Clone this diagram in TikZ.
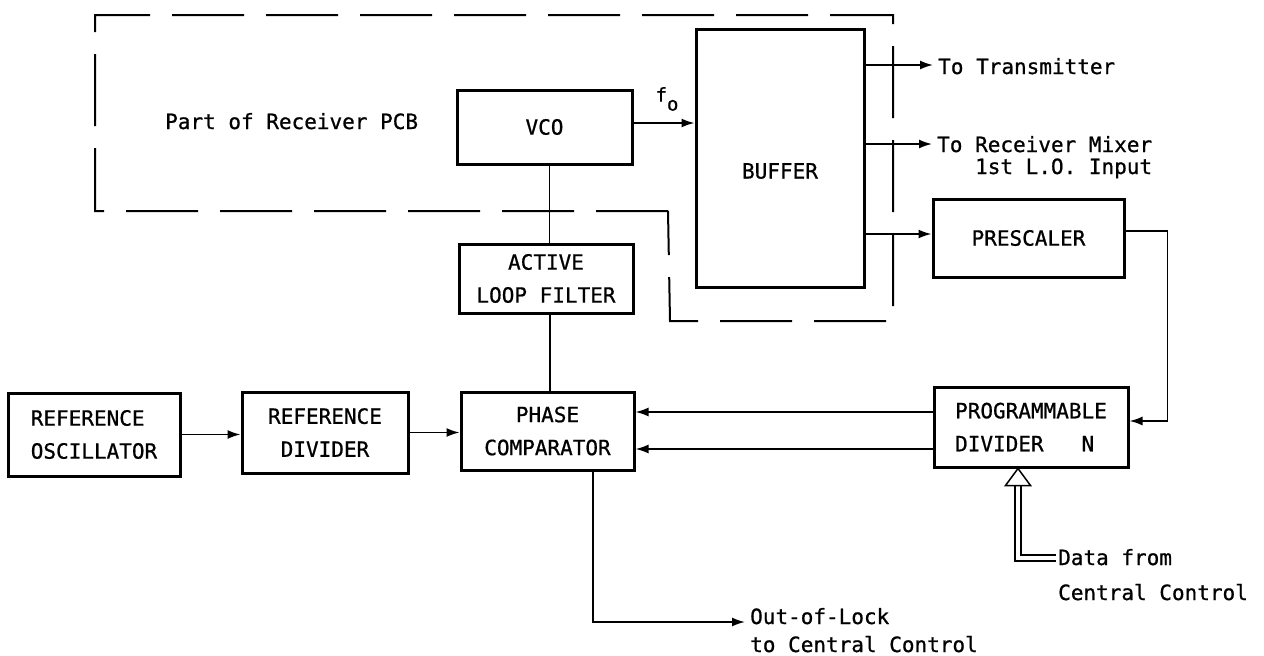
\documentclass[tikz,border=0pt]{standalone}
\usepackage{fontspec}
\setmonofont[FakeBold=0.8]{DejaVu Sans Mono}
\usetikzlibrary{arrows.meta}
\begin{document}
\begin{tikzpicture}[x=1pt,y=-1pt,
  every node/.style={font=\ttfamily\fontsize{21}{33}\selectfont},
  blk/.style={draw, line width=3pt, inner sep=0pt, align=center},
  conn/.style={line width=1.7pt},
  arr/.style={conn, -{Latex[length=13pt,width=9pt]}},
  pcb/.style={line width=2pt, dash pattern=on 72pt off 22pt},
  lbl/.style={inner xsep=5pt, inner ysep=0pt, anchor=base west},
  dbl/.style={line width=1.4pt, double, double distance=4.5pt}]
\useasboundingbox (0,0) rectangle (1264,656);

% dashed outline of the receiver PCB
\draw[pcb] (668,211) -- (95,211) -- (95,15) -- (893,15) -- (893,321) -- (670,321) -- cycle;
\node[lbl] (pcbtxt) at (160,129) {Part of Receiver PCB};

% blocks
\node[blk, minimum width=175pt, minimum height=74pt] (vco) at (544.5,127) {VCO};
\node[blk, minimum width=168pt, minimum height=258pt] (buffer) at (780,158) {};
\node (buftxt) at (780,171) {BUFFER};
\node[blk, minimum width=174pt, minimum height=69pt] (filter) at (546,278.5) {ACTIVE\\LOOP FILTER};
\node[blk, minimum width=191pt, minimum height=78pt] (presc) at (1028.5,238) {PRESCALER};
\node[blk, minimum width=172pt, minimum height=83pt, align=left] (refosc) at (94,434.5) {REFERENCE\\OSCILLATOR};
\node[blk, minimum width=166pt, minimum height=81pt] (refdiv) at (325,432.5) {REFERENCE\\DIVIDER};
\node[blk, minimum width=173pt, minimum height=78pt] (phase) at (547.5,431) {PHASE\\COMPARATOR};
\node[blk, minimum width=194pt, minimum height=80pt, align=left] (prog) at (1031,427) {PROGRAMMABLE\\DIVIDER~~~N};

% labels
\node[lbl] (tx) at (933,74) {To Transmitter};
\node[lbl] (rx) at (932,152) {To Receiver Mixer};
\node[lbl, anchor=base east] (rx2) at (rx.base east |- 0,174) {1st L.O. Input};
\node[lbl] (ool) at (745,624) {Out-of-Lock};
\node[lbl] (ool2) at (ool.base west |- 0,652) {to Central Control};
\node[lbl, inner xsep=2pt] (data) at (1056,565) {Data from};
\node[lbl, inner xsep=2pt] (data2) at (1056,600) {Central Control};
\node[inner sep=0pt, font=\ttfamily\fontsize{19}{19}\selectfont] (fo) at (667,99) {f\raisebox{-9pt}{o}};

% connectors
\coordinate (txin) at ([yshift=9pt]tx.base west);
\coordinate (rxin) at ([yshift=8pt]rx.base west);
\coordinate (oolin) at ([yshift=2pt]ool.base west);
\draw[arr] ([yshift=4pt]vco.east) -- ([yshift=4pt]vco.east -| buffer.west);
\draw[conn] ([xshift=5pt]vco.south) -- ([xshift=5pt]vco.south |- filter.north);
\draw[conn] ([xshift=4pt]filter.south) -- ([xshift=4pt]filter.south |- phase.north);
\draw[arr] (txin -| buffer.east) -- (txin);
\draw[arr] (rxin -| buffer.east) -- (rxin);
\draw[arr] ([yshift=4pt]presc.west -| buffer.east) -- ([yshift=4pt]presc.west);
\draw[arr] ([yshift=7pt]presc.east) -- ++(42,0) |- ([yshift=6pt]prog.east);
\draw[arr] (refosc.east) -- (refosc.east -| refdiv.west);
\draw[arr] (refdiv.east) -- (refdiv.east -| phase.west);
\draw[arr] ([yshift=15pt]prog.west) -- ([yshift=15pt]prog.west -| phase.east);
\draw[arr] ([yshift=-22pt]prog.west) -- ([yshift=-22pt]prog.west -| phase.east);
\draw[arr] ([xshift=45.5pt]phase.south) |- (oolin);

% double data arrow with hollow head
\coordinate (dtip) at ([xshift=-13pt]prog.south);
\coordinate (dbase) at ([yshift=-17pt]dtip);
\draw[dbl] ([yshift=7pt]data.base west) -| (dbase);
\draw[line width=1.5pt, fill=white, line join=miter] (dtip) -- ([xshift=-12.5pt]dbase) -- ([xshift=12.5pt]dbase) -- cycle;
\end{tikzpicture}
\end{document}
